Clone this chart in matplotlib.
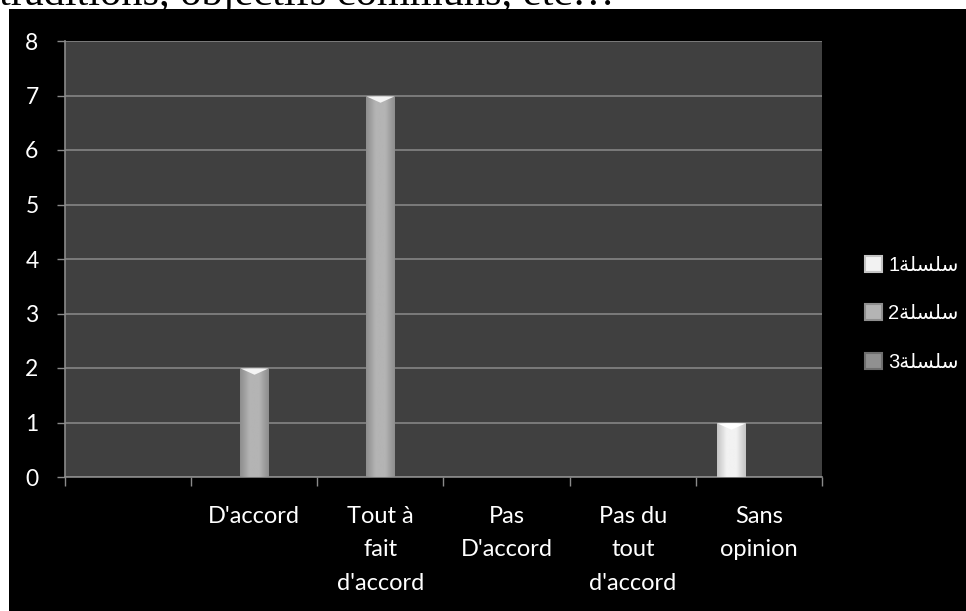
import numpy as np
import matplotlib
matplotlib.use("Agg")
import matplotlib.pyplot as plt
from matplotlib.patches import Rectangle, Patch
from matplotlib.path import Path
from matplotlib.colors import LinearSegmentedColormap

# ---- data ----
categories = ["", "D'accord", "Tout à\nfait\nd'accord", "Pas\nD'accord",
              "Pas du\ntout\nd'accord", "Sans\nopinion"]
series_names = ["1\uFE94\uFEE0\uFEB4\uFEE0\uFEB3",   # سلسلة1 (visual order)
                "2\uFE94\uFEE0\uFEB4\uFEE0\uFEB3",   # سلسلة2
                "3\uFE94\uFEE0\uFEB4\uFEE0\uFEB3"]   # سلسلة3
series1 = [0, 0, 0, 0, 0, 1]
series2 = [0, 2, 7, 0, 0, 0]
series3 = [0, 0, 0, 0, 0, 0]
y_ticks = [0, 1, 2, 3, 4, 5, 6, 7, 8]
header_text = "traditions, objectifs communs, etc…"

# ---- styles ----
edge_cols = ["#c4c4c4", "#8e8e8e", "#6e6e6e"]
mid_cols = ["#f2f2f2", "#b4b4b4", "#909090"]
top_cols = ["#ffffff", "#f4f4f4", "#d8d8d8"]

W, H = 966, 611
fig = plt.figure(figsize=(W / 100, H / 100), dpi=100, facecolor="white")

# black chart background
fig.patches.append(Rectangle((9 / W, 0), 1, (H - 9) / H, transform=fig.transFigure,
                             facecolor="black", edgecolor="none", zorder=0))
# cut-off header text from the page (the reference shows only its lower edge)
fig.text(-1 / W, 1 - 5 / H, header_text, family="Liberation Serif", fontsize=30.5,
         color="black", va="baseline", ha="left", zorder=1)

ax = fig.add_axes([65 / W, 1 - 477 / H, (822 - 65) / W, (477 - 41) / H])
ax.set_facecolor("#404040")
ax.set_zorder(2)

x = np.arange(len(categories))
bw = 0.222
allser = [series1, series2, series3]
tri = Path([(-1, 0), (1, 0), (0, -0.45), (-1, 0)],
           [Path.MOVETO, Path.LINETO, Path.LINETO, Path.CLOSEPOLY])

for i, vals in enumerate(allser):
    off = (i - 1) * bw
    bars = ax.bar(x + off, vals, width=bw, color=mid_cols[i], linewidth=0, zorder=3)
    cmap = LinearSegmentedColormap.from_list(
        "g%d" % i, [edge_cols[i], mid_cols[i], mid_cols[i], edge_cols[i]])
    grad = np.linspace(0, 1, 64)[None, :]
    for b, v in zip(bars, vals):
        if v <= 0:
            continue
        im = ax.imshow(grad, cmap=cmap, aspect="auto", zorder=3.5,
                       extent=[b.get_x(), b.get_x() + b.get_width(), 0, v])
        im.set_clip_path(b)
        ax.plot([b.get_x() + b.get_width() / 2], [v], marker=tri, markersize=20,
                color=top_cols[i], markeredgewidth=0, zorder=4)

ax.set_xlim(-0.5, len(categories) - 0.5)
ax.set_ylim(0, 8)
ax.set_yticks(y_ticks)
ax.set_xticks(np.arange(len(categories) + 1) - 0.5, minor=False)
ax.set_xticklabels([""] * (len(categories) + 1))
ax.set_xticks(x, minor=True)
ax.set_xticklabels(categories, minor=True)
ax.tick_params(axis="x", which="minor", length=0, pad=21, colors="white",
               labelsize=17)
ax.tick_params(axis="x", which="major", length=6.5, width=1, color="#8a8a8a")
ax.tick_params(axis="y", length=6, width=1, color="#8a8a8a", pad=13,
               labelcolor="white", labelsize=16.5)
for lab in ax.get_xticklabels(minor=True):
    lab.set_family("Lato")
    lab.set_linespacing(1.72)
    lab.set_ha("center")
for lab in ax.get_yticklabels():
    lab.set_family("Lato")

ax.yaxis.grid(True, color="#858585", linewidth=1.2)
ax.set_axisbelow(True)
for s in ["top", "right"]:
    ax.spines[s].set_visible(False)
for s in ["left", "bottom"]:
    ax.spines[s].set_color("#8a8a8a")
    ax.spines[s].set_linewidth(1.2)

handles = [Patch(facecolor=mid_cols[i], edgecolor=edge_cols[i], linewidth=1.5)
           for i in range(3)]
leg = fig.legend(handles, series_names, loc="upper left",
                 bbox_to_anchor=(851 / W, 1 - 242 / H), frameon=False,
                 prop={"family": ["Liberation Sans", "DejaVu Sans"], "size": 14.5},
                 handlelength=0.85, handleheight=0.85, handletextpad=0.3,
                 labelspacing=1.45, borderaxespad=0.3)
for t in leg.get_texts():
    t.set_color("white")

fig.savefig("out.png", dpi=100, facecolor="white")
